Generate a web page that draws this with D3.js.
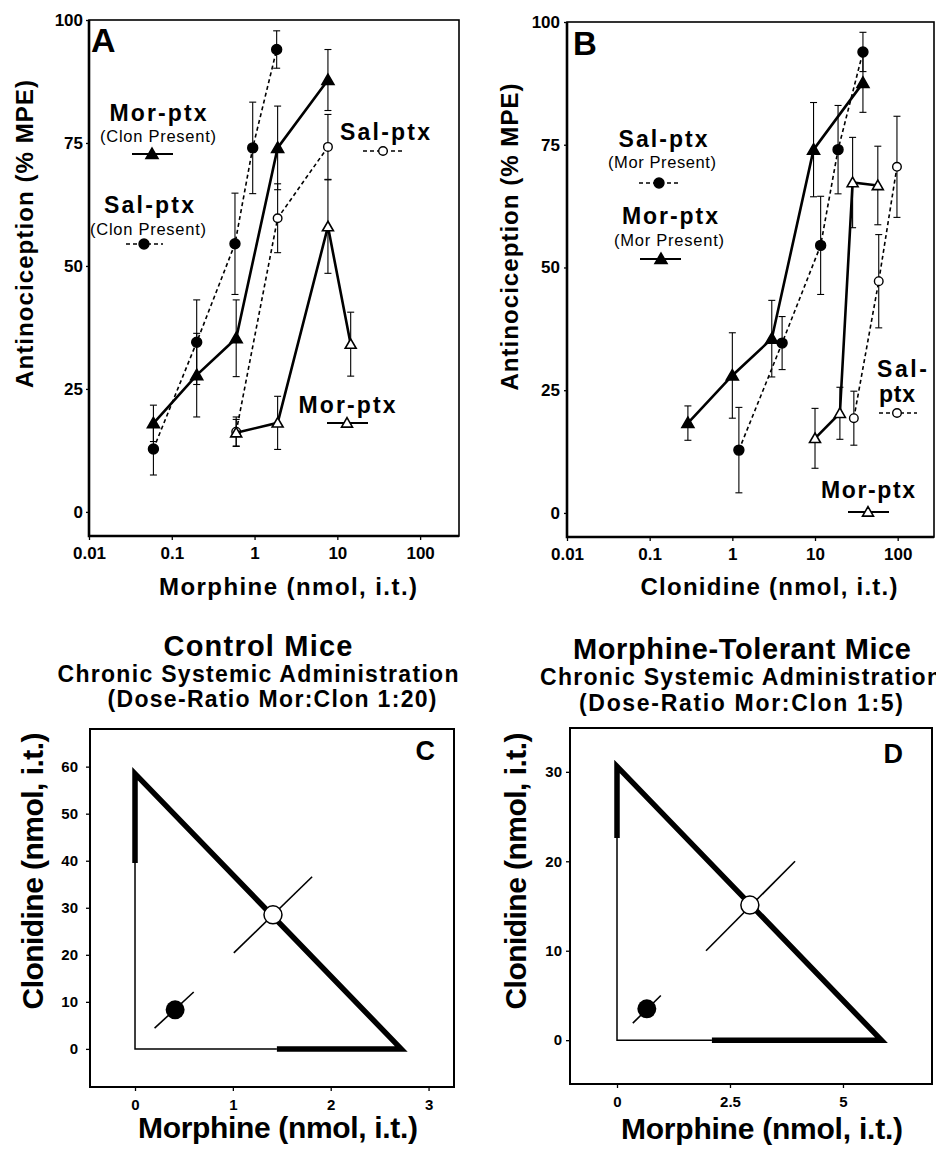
<!DOCTYPE html>
<html>
<head>
<meta charset="utf-8">
<script src="https://cdn.jsdelivr.net/npm/d3@7"></script>
<style>
  body { margin: 0; background: #fff; }
  svg { display: block; font-family: "Liberation Sans", Arial, sans-serif; }
  text { fill: #000; }
</style>
</head>
<body>
<div id="chart"></div>
<script>
// ---------------------
//      DATA
// ---------------------
// dose-response rows: [dose (nmol), antinociception (%MPE), SEM]

// Panel A - morphine dose
const salClonA = [[0.06, 12.8, 5.3], [0.2, 34.5, 8.6], [0.58, 54.5, 10.3], [0.95, 74, 9.3], [1.85, 94, 3.8]];
const morClonA = [[0.06, 18, 3.7], [0.2, 27.8, 8.5], [0.6, 35.3, 7.8], [1.9, 74, 8.5], [7.7, 87.8, 6.2]];
const salA = [[0.6, 16.3, 3], [1.9, 59.7, 7], [7.7, 74.2, 6.6]];
const morA = [[0.6, 16.1, 2.7], [1.9, 18.1, 5.4], [7.7, 58, 9.5], [14.5, 34.1, 6.5]];

// Panel B - clonidine dose
const salMorB = [[1.2, 12.8, 8.7], [4.0, 34.6, 5.4], [11.7, 54.5, 10], [19, 74, 9], [38, 93.9, 4]];
const morMorB = [[0.29, 18.3, 3.5], [1.0, 28, 8.7], [3.0, 35.5, 7.8], [9.6, 74, 9.6], [38, 87.6, 6]];
const salB = [[29.5, 19.3, 5.5], [59, 47.2, 9.5], [98, 70.5, 10.3]];
const morB = [[10, 15.2, 6.1], [20, 20.3, 5.3], [28.5, 67.3, 9.2], [57.5, 66.7, 8]];

// tick values
const logTicks = [0.01, 0.1, 1, 10, 100];
const mpeTicks = [0, 25, 50, 75, 100];
const clonTicksC = [0, 10, 20, 30, 40, 50, 60];
const morTicksC = [0, 1, 2, 3];
const clonTicksD = [0, 10, 20, 30];
const morTicksD = [0, 2.5, 5];

// isobolograms: points are [morphine, clonidine] (nmol)
const ed50C = [2.72, 58.5];          // morphine alone, clonidine alone
const clonBarC = [39.5, 58.5];       // clonidine CI on y axis
const morBarC = [1.45, 2.72];        // morphine CI on x axis
const theoC = [1.41, 28.5];
const theoCiC = [[1.01, 20.4], [1.81, 36.6]];
const obsC = [0.41, 8.3];
const obsCiC = [[0.20, 4.4], [0.60, 12.1]];

const ed50D = [5.85, 30.6];
const clonBarD = [22.6, 30.6];
const morBarD = [2.1, 5.85];
const theoD = [2.94, 15.1];
const theoCiD = [[1.97, 10.0], [3.94, 20.0]];
const obsD = [0.66, 3.5];
const obsCiD = [[0.35, 1.9], [0.97, 5.0]];

// ---------------------
//      SETUP
// ---------------------
const width = 936, height = 1156;
const svg = d3.select("#chart").append("svg")
    .attr("width", width)
    .attr("height", height);

function addText(x, y, str, size, len, opts = {}) {
    const t = svg.append("text")
        .attr("x", x).attr("y", y)
        .attr("text-anchor", opts.anchor || "middle")
        .style("font-size", size + "px")
        .style("font-weight", opts.weight || "bold")
        .text(str);
    if (len) t.attr("textLength", len).attr("lengthAdjust", "spacing");
    if (opts.rotate) t.attr("transform", `rotate(-90, ${x}, ${y})`);
    return t;
}

function styleAxis(g, size) {
    g.select(".domain").remove();
    g.selectAll("line").attr("stroke", "#000").attr("stroke-width", 1.3);
    g.selectAll("text")
        .attr("font-family", null)
        .style("font-size", size + "px")
        .style("font-weight", "bold")
        .attr("fill", "#000");
    g.attr("font-family", null).attr("font-size", null);
}

function marker(g, cx, cy, style) {
    if (style.shape === "circle") {
        g.append("circle")
            .attr("cx", cx).attr("cy", cy)
            .attr("r", style.filled ? 5 : 4.3)
            .attr("fill", style.filled ? "#000" : "#fff")
            .attr("stroke", "#000").attr("stroke-width", 1.4);
    } else {
        g.append("path")
            .attr("d", d3.symbol(d3.symbolTriangle, style.filled ? 62 : 52)())
            .attr("transform", `translate(${cx},${cy + 1})`)
            .attr("fill", style.filled ? "#000" : "#fff")
            .attr("stroke", "#000").attr("stroke-width", 1.6);
    }
}

function lineStyle(sel, dashed) {
    sel.attr("fill", "none").attr("stroke", "#000")
        .attr("stroke-width", dashed ? 1.6 : 2.6)
        .attr("stroke-dasharray", dashed ? "4,3" : null);
}

function drawSeries(g, x, y, data, style) {
    const line = d3.line().x(d => x(d[0])).y(d => y(d[1]));
    g.append("path").datum(data).attr("d", line).call(lineStyle, style.dashed);

    // error bars
    const eb = g.append("g").selectAll("g").data(data).join("g")
        .attr("stroke", "#000").attr("stroke-width", 1.1);
    eb.append("line")
        .attr("x1", d => x(d[0])).attr("x2", d => x(d[0]))
        .attr("y1", d => y(d[1] - d[2])).attr("y2", d => y(d[1] + d[2]));
    [-1, 1].forEach(s => {
        eb.append("line")
            .attr("x1", d => x(d[0]) - 3.5).attr("x2", d => x(d[0]) + 3.5)
            .attr("y1", d => y(d[1] + s * d[2])).attr("y2", d => y(d[1] + s * d[2]));
    });

    data.forEach(d => marker(g, x(d[0]), y(d[1]), style));
}

function legendKey(cx, cy, x1, x2, style) {
    const g = svg.append("g");
    g.append("line").attr("x1", x1).attr("x2", x2).attr("y1", cy).attr("y2", cy)
        .call(lineStyle, style.dashed)
        .attr("stroke-width", style.dashed ? 1.6 : 2.2);
    marker(g, cx, cy, style);
}

const FILL_CIRCLE = { shape: "circle", filled: true, dashed: true };
const OPEN_CIRCLE = { shape: "circle", filled: false, dashed: true };
const FILL_TRI = { shape: "triangle", filled: true, dashed: false };
const OPEN_TRI = { shape: "triangle", filled: false, dashed: false };

// ---------------------
//   DOSE-RESPONSE PANELS
// ---------------------
function logPanel(p) {
    const x = d3.scaleLog().domain(p.xDomain).range(p.xRange);
    const y = d3.scaleLinear().domain([-4.9, 100]).range(p.yRange);
    const g = svg.append("g");

    g.append("g")
        .attr("transform", `translate(0,${p.yRange[0]})`)
        .call(d3.axisBottom(x).tickValues(logTicks).tickFormat(d => String(d)).tickSize(4).tickPadding(7))
        .call(styleAxis, 17);
    g.append("g")
        .attr("transform", `translate(${p.xRange[0]},0)`)
        .call(d3.axisLeft(y).tickValues(mpeTicks).tickSize(3).tickPadding(p.yPad))
        .call(styleAxis, 17);

    // frame: heavy left/bottom, lighter top/right
    g.append("rect")
        .attr("x", p.xRange[0]).attr("y", p.yRange[1])
        .attr("width", p.xRange[1] - p.xRange[0]).attr("height", p.yRange[0] - p.yRange[1])
        .attr("fill", "none").attr("stroke", "#000").attr("stroke-width", 1.6);
    g.append("path")
        .attr("d", `M${p.xRange[0]},${p.yRange[1]}V${p.yRange[0]}H${p.xRange[1]}`)
        .attr("fill", "none").attr("stroke", "#000").attr("stroke-width", 2.6);

    p.series.forEach(s => drawSeries(g, x, y, s.data, s.style));
}

logPanel({
    xDomain: [0.01, 295], xRange: [89, 459], yRange: [536, 20], yPad: 3,
    series: [
        { data: salClonA, style: FILL_CIRCLE },
        { data: salA, style: OPEN_CIRCLE },
        { data: morA, style: OPEN_TRI },
        { data: morClonA, style: FILL_TRI }
    ]
});

logPanel({
    xDomain: [0.01, 275], xRange: [567, 934], yRange: [537, 22], yPad: 4,
    series: [
        { data: salMorB, style: FILL_CIRCLE },
        { data: salB, style: OPEN_CIRCLE },
        { data: morB, style: OPEN_TRI },
        { data: morMorB, style: FILL_TRI }
    ]
});

// panel A labels
addText(91, 52, "A", 34, null, { anchor: "start" });
addText(158, 121, "Mor-ptx", 23, 97);
addText(158, 142, "(Clon Present)", 16.5, 116, { weight: "normal" });
legendKey(152, 154, 132, 173, FILL_TRI);
addText(149, 213, "Sal-ptx", 23, 90);
addText(148, 235, "(Clon Present)", 16.5, 116, { weight: "normal" });
legendKey(144, 244, 126, 163, FILL_CIRCLE);
addText(385, 140, "Sal-ptx", 23, 90);
legendKey(383, 151, 363, 402, OPEN_CIRCLE);
addText(347, 413, "Mor-ptx", 23, 97);
legendKey(347, 423, 327, 368, OPEN_TRI);
addText(33, 234, "Antinociception  (%  MPE)", 24, 308, { rotate: true });
addText(288, 595, "Morphine  (nmol,  i.t.)", 24, 258);

// panel B labels
addText(573, 55, "B", 33, null, { anchor: "start" });
addText(663, 147, "Sal-ptx", 23, 89);
addText(662, 168, "(Mor Present)", 16.5, 108, { weight: "normal" });
legendKey(659, 183, 639, 678, FILL_CIRCLE);
addText(670, 224, "Mor-ptx", 23, 96);
addText(669, 246, "(Mor Present)", 16.5, 110, { weight: "normal" });
legendKey(661, 259, 640, 681, FILL_TRI);
addText(877, 377, "Sal-", 23, 50, { anchor: "start" });
addText(879, 402, "ptx", 23, 36, { anchor: "start" });
legendKey(897, 413, 879, 917, OPEN_CIRCLE);
addText(868, 498, "Mor-ptx", 23, 94);
legendKey(868, 512, 848, 889, OPEN_TRI);
addText(518, 237, "Antinociception  (%  MPE)", 24, 307, { rotate: true });
addText(769, 595, "Clonidine  (nmol,  i.t.)", 24, 257);

// ---------------------
//   ISOBOLOGRAMS
// ---------------------
function isoPanel(p) {
    const x = d3.scaleLinear().domain(p.xDomain).range(p.xRange);
    const y = d3.scaleLinear().domain(p.yDomain).range(p.yRange);
    const g = svg.append("g");

    g.append("g")
        .attr("transform", `translate(0,${p.yRange[0]})`)
        .call(d3.axisBottom(x).tickValues(p.xTicks).tickFormat(d3.format("~g")).tickSize(4).tickPadding(8))
        .call(styleAxis, 15);
    g.append("g")
        .attr("transform", `translate(${p.xRange[0]},0)`)
        .call(d3.axisLeft(y).tickValues(p.yTicks).tickSize(4).tickPadding(p.yPad))
        .call(styleAxis, 15);

    g.append("rect")
        .attr("x", p.xRange[0]).attr("y", p.yRange[1])
        .attr("width", p.xRange[1] - p.xRange[0]).attr("height", p.yRange[0] - p.yRange[1])
        .attr("fill", "none").attr("stroke", "#000").attr("stroke-width", 2);

    // thin axes of the isobole
    g.append("path")
        .attr("d", `M${x(0)},${y(p.clonBar[0])}V${y(0)}H${x(p.morBar[0])}`)
        .attr("fill", "none").attr("stroke", "#000").attr("stroke-width", 1.5);
    // additive line + confidence bars
    g.append("path")
        .attr("d", `M${x(0)},${y(p.clonBar[0])}V${y(p.ed50[1])}L${x(p.ed50[0])},${y(0)}H${x(p.morBar[0])}`)
        .attr("fill", "none").attr("stroke", "#000").attr("stroke-width", 5.5)
        .attr("stroke-linejoin", "miter");

    [p.theoCi, p.obsCi].forEach(ci => {
        g.append("line")
            .attr("x1", x(ci[0][0])).attr("y1", y(ci[0][1]))
            .attr("x2", x(ci[1][0])).attr("y2", y(ci[1][1]))
            .attr("stroke", "#000").attr("stroke-width", 1.6);
    });
    g.append("circle")
        .attr("cx", x(p.theo[0])).attr("cy", y(p.theo[1])).attr("r", 9)
        .attr("fill", "#fff").attr("stroke", "#000").attr("stroke-width", 1.5);
    g.append("circle")
        .attr("cx", x(p.obs[0])).attr("cy", y(p.obs[1])).attr("r", 9.5)
        .attr("fill", "#000");
}

isoPanel({
    xDomain: [-0.46, 3.26], xRange: [90, 454],
    yDomain: [-8.1, 68], yRange: [1087, 729], yPad: 8,
    xTicks: morTicksC, yTicks: clonTicksC,
    ed50: ed50C, clonBar: clonBarC, morBar: morBarC,
    theo: theoC, theoCi: theoCiC, obs: obsC, obsCi: obsCiC
});

isoPanel({
    xDomain: [-1.04, 6.97], xRange: [570, 932],
    yDomain: [-4.9, 34.9], yRange: [1084, 728], yPad: 4,
    xTicks: morTicksD, yTicks: clonTicksD,
    ed50: ed50D, clonBar: clonBarD, morBar: morBarD,
    theo: theoD, theoCi: theoCiD, obs: obsD, obsCi: obsCiD
});

// panel C labels
addText(258, 656, "Control  Mice", 29, 189);
addText(258, 682, "Chronic  Systemic  Administration", 23, 401);
addText(272, 707, "(Dose-Ratio  Mor:Clon  1:20)", 23, 329);
addText(435, 760, "C", 27, null, { anchor: "end" });
addText(43, 871, "Clonidine (nmol, i.t.)", 30, 277, { rotate: true });
addText(278, 1138, "Morphine (nmol, i.t.)", 30, 280);

// panel D labels (the subtitle runs off the right edge, as in the original)
addText(742, 659, "Morphine-Tolerant Mice", 29, 338);
addText(540, 685, "Chronic  Systemic  Administration", 23, 401, { anchor: "start" });
addText(741, 711, "(Dose-Ratio  Mor:Clon  1:5)", 23, 324);
addText(903, 763, "D", 27, null, { anchor: "end" });
addText(526, 871, "Clonidine (nmol, i.t.)", 30, 277, { rotate: true });
addText(762, 1139, "Morphine (nmol, i.t.)", 30, 282);
</script>
</body>
</html>
